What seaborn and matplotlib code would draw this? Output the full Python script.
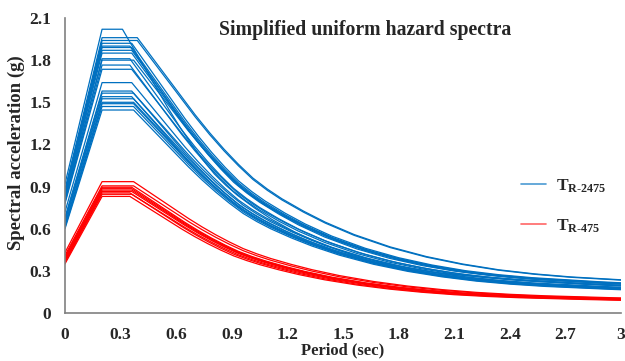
import numpy as np
import pandas as pd
import matplotlib
matplotlib.use("Agg")
import matplotlib.pyplot as plt
import seaborn as sns
from matplotlib.lines import Line2D

# ---- data ----
# Blue: T_R-2475 spectra (PGA at T=0, plateau level, plateau end period)
blue_pga = [0.92, 0.88, 0.86, 0.87, 0.84, 0.85, 0.83, 0.82, 0.80, 0.81, 0.79, 0.78,
            0.72, 0.68, 0.67, 0.66, 0.65, 0.63, 0.62, 0.61, 0.60]
blue_plateau = [2.02, 1.96, 1.94, 1.92, 1.90, 1.89, 1.87, 1.85, 1.81, 1.80, 1.765, 1.735,
                1.64, 1.58, 1.565, 1.54, 1.525, 1.50, 1.49, 1.47, 1.445]
blue_tc = [0.31, 0.39, 0.39, 0.36, 0.35, 0.36, 0.36, 0.36, 0.35, 0.37, 0.35, 0.36,
           0.36, 0.36, 0.37, 0.36, 0.37, 0.37, 0.37, 0.37, 0.37]
# Red: T_R-475 spectra
red_pga = [0.43, 0.41, 0.40, 0.39, 0.38, 0.37, 0.37, 0.36, 0.35]
red_plateau = [0.935, 0.905, 0.895, 0.885, 0.875, 0.865, 0.855, 0.845, 0.83]
red_tc = [0.37, 0.37, 0.36, 0.36, 0.36, 0.36, 0.35, 0.36, 0.35]
t_b = 0.2
# normalised descending branch: T/Tc -> Sa/Sa_max
ratio = [1.0, 1.2, 1.4, 1.6, 1.8, 2.0, 2.2, 2.4, 2.6, 2.8, 3.0, 3.3, 3.6, 4.0,
         4.5, 5.0, 5.5, 6.0, 6.5, 7.0, 8.0, 9.0, 10.0]
shape = [1.0, 0.93, 0.86, 0.79, 0.72, 0.655, 0.595, 0.54, 0.49, 0.45, 0.415, 0.37,
         0.33, 0.285, 0.24, 0.205, 0.178, 0.157, 0.142, 0.131, 0.116, 0.104, 0.094]
x_ticks = [0, 0.3, 0.6, 0.9, 1.2, 1.5, 1.8, 2.1, 2.4, 2.7, 3.0]
x_labels = ["0", "0.3", "0.6", "0.9", "1.2", "1.5", "1.8", "2.1", "2.4", "2.7", "3"]
y_ticks = [0, 0.3, 0.6, 0.9, 1.2, 1.5, 1.8, 2.1]
y_labels = ["0", "0.3", "0.6", "0.9", "1.2", "1.5", "1.8", "2.1"]

rows = []
def add(group, pgas, plats, tcs):
    for i, (p, s, tc) in enumerate(zip(pgas, plats, tcs)):
        ts = [0.0, t_b] + [tc * r for r in ratio]
        sas = [p, s] + [s * v for v in shape]
        for t, a in zip(ts, sas):
            rows.append({"T": t, "Sa": a, "group": group, "curve": f"{group}{i}"})
add("b", blue_pga, blue_plateau, blue_tc)
add("r", red_pga, red_plateau, red_tc)
df = pd.DataFrame(rows)

sns.set_style("white")
plt.rcParams["font.family"] = ["Liberation Serif", "DejaVu Serif"]
plt.rcParams["font.weight"] = "bold"
plt.rcParams["mathtext.fontset"] = "custom"
plt.rcParams["mathtext.rm"] = "Liberation Serif:bold"
plt.rcParams["mathtext.bf"] = "Liberation Serif:bold"
plt.rcParams["mathtext.it"] = "Liberation Serif:bold"

BLUE = "#0070C0"
RED = "#FF0000"

fig = plt.figure(figsize=(6.25, 3.61), dpi=100)
ax = fig.add_axes([65 / 625, 1 - 313 / 361, (621 - 65) / 625, (313 - 18) / 361])
sns.lineplot(data=df, x="T", y="Sa", hue="group", units="curve", estimator=None,
             palette={"b": BLUE, "r": RED}, linewidth=0.9, legend=False, ax=ax,
             sort=False)
ax.set_xlim(0, 3)
ax.set_ylim(0, 2.1)
ax.set_xticks(x_ticks)
ax.set_xticklabels(x_labels)
ax.set_yticks(y_ticks)
ax.set_yticklabels(y_labels)
ax.tick_params(direction="in", length=4, width=1, color="#808080", labelsize=12.5)
ax.tick_params(axis="x", pad=10)
ax.tick_params(axis="y", pad=10)
for lab in ax.get_xticklabels() + ax.get_yticklabels():
    lab.set_fontweight("bold")
for s in ["top", "right"]:
    ax.spines[s].set_visible(False)
for s in ["left", "bottom"]:
    ax.spines[s].set_color("#808080")
    ax.spines[s].set_linewidth(1.2)
ax.set_xlabel("Period (sec)", fontsize=12, fontweight="bold")
ax.xaxis.set_label_coords(0.5, -0.098)
ax.set_ylabel("Spectral acceleration (g)", fontsize=13.5, fontweight="bold")
ax.yaxis.set_label_coords(-0.072, 0.542)
ax.text(0.54, 0.959, "Simplified uniform hazard spectra", transform=ax.transAxes,
        ha="center", va="center", fontsize=14.2, fontweight="bold")

handles = [Line2D([], [], color=BLUE, lw=1.2, alpha=0.7),
           Line2D([], [], color=RED, lw=1.2, alpha=0.6)]
labels = [r"$\mathbf{T}_{\mathbf{R\text{-}2475}}$", r"$\mathbf{T}_{\mathbf{R\text{-}475}}$"]
ax.legend(handles, labels, loc="center left", bbox_to_anchor=(0.821, 0.363),
          frameon=False, fontsize=12.5, handlelength=1.4, labelspacing=1.3,
          handletextpad=0.6, borderpad=0, borderaxespad=0)

fig.savefig("out.png", dpi=100)
